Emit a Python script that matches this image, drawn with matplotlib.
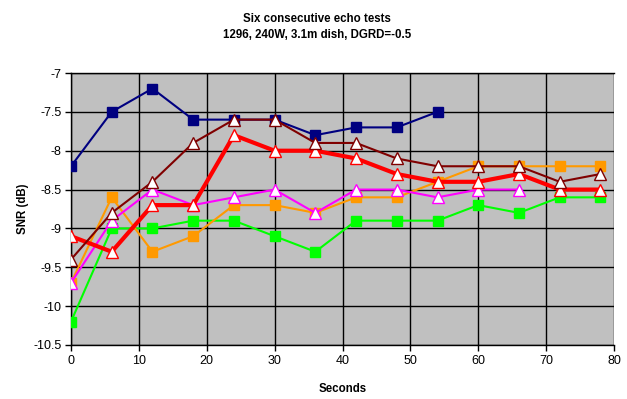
import matplotlib
matplotlib.use("Agg")
import matplotlib.pyplot as plt

plt.rcParams['font.family'] = ['Liberation Sans', 'DejaVu Sans']

# time stamps (seconds) and SNR readings for each echo test
seconds = [0, 6, 12, 18, 24, 30, 36, 42, 48, 54, 60, 66, 72, 78]

navy_snr = [-8.2, -7.5, -7.2, -7.6, -7.6, -7.6, -7.8, -7.7, -7.7, -7.5]
green_snr = [-10.2, -9.0, -9.0, -8.9, -8.9, -9.1, -9.3, -8.9, -8.9, -8.9, -8.7, -8.8, -8.6, -8.6]
orange_snr = [-9.7, -8.6, -9.3, -9.1, -8.7, -8.7, -8.8, -8.6, -8.6, -8.4, -8.2, -8.2, -8.2, -8.2]
magenta_snr = [-9.7, -8.9, -8.5, -8.7, -8.6, -8.5, -8.8, -8.5, -8.5, -8.6, -8.5, -8.5]
red_snr = [-9.1, -9.3, -8.7, -8.7, -7.8, -8.0, -8.0, -8.1, -8.3, -8.4, -8.4, -8.3, -8.5, -8.5]
maroon_snr = [-9.4, -8.8, -8.4, -7.9, -7.6, -7.6, -7.9, -7.9, -8.1, -8.2, -8.2, -8.2, -8.4, -8.3]

x_ticks = [0, 10, 20, 30, 40, 50, 60, 70, 80]
y_ticks = [-10.5, -10, -9.5, -9, -8.5, -8, -7.5, -7]
y_labels = ['-10.5', '-10', '-9.5', '-9', '-8.5', '-8', '-7.5', '-7']

fig = plt.figure(figsize=(6.27, 3.99), dpi=100)
ax = fig.add_axes([71 / 627, 1 - 345 / 399, 543 / 627, 272 / 399])
ax.set_facecolor('#C0C0C0')

# square marker series
ax.plot(seconds[:len(navy_snr)], navy_snr, color='#000080', lw=1.5,
        marker='s', ms=7, mfc='#000080', mec='#000080', zorder=3)
ax.plot(seconds, green_snr, color='#00FF00', lw=1.5,
        marker='s', ms=7, mfc='#00FF00', mec='#00FF00', zorder=4)
ax.plot(seconds, orange_snr, color='#FF9900', lw=1.5,
        marker='s', ms=7, mfc='#FF9900', mec='#FF9900', zorder=5)

# triangle marker series
ax.plot(seconds[:len(magenta_snr)], magenta_snr, color='#FF00FF', lw=1.5,
        marker='^', ms=9, mfc='white', mec='#FF00FF', mew=1, zorder=6)
ax.plot(seconds, red_snr, color='#FF0000', lw=3,
        marker='^', ms=9, mfc='white', mec='#FF0000', mew=1, zorder=7)
ax.plot(seconds, maroon_snr, color='#800000', lw=1.5,
        marker='^', ms=9, mfc='white', mec='#800000', mew=1, zorder=8)

ax.set_xlim(0, 80)
ax.set_ylim(-10.5, -7)
ax.set_xticks(x_ticks)
ax.set_yticks(y_ticks)
ax.set_yticklabels(y_labels)
ax.grid(True, color='black', lw=1)
ax.set_axisbelow(True)
ax.tick_params(direction='out', length=4, width=1, labelsize=9, pad=3)

ax.spines['right'].set_visible(False)
for side in ['left', 'bottom', 'top']:
    ax.spines[side].set_color('black')
    ax.spines[side].set_linewidth(1)

ax.set_xlabel('Seconds', fontsize=8.3, fontweight='bold', labelpad=12)
ax.set_ylabel('SNR (dB)', fontsize=8.3, fontweight='bold', labelpad=3)

fig.text(317 / 627, 1 - 19 / 399, 'Six consecutive echo tests', ha='center', va='center',
         fontsize=8.3, fontweight='bold')
fig.text(317 / 627, 1 - 35 / 399, '1296, 240W, 3.1m dish, DGRD=-0.5', ha='center', va='center',
         fontsize=8.3, fontweight='bold')

fig.savefig('out.png', dpi=100)
